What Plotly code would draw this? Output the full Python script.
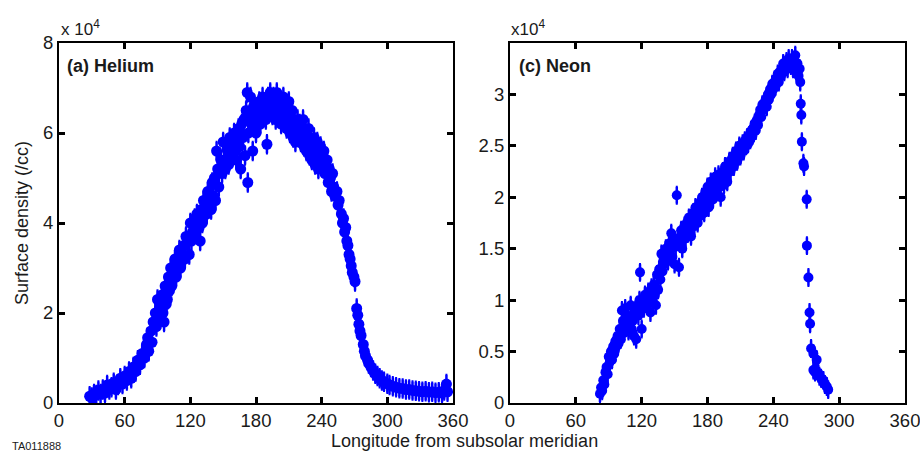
import plotly.graph_objects as go

# ---------------- data (density in units of 1e4 /cc) ----------------
he_lon = [
    28, 30, 32, 34, 36, 38, 40, 42, 44, 46,
    48, 50, 52, 54, 56, 58, 60, 62, 64, 66,
    68, 70, 72, 74, 76, 78, 80, 81, 82, 84,
    85, 86, 88, 89, 90, 91, 92, 94, 95, 96,
    97, 98, 99, 100, 101, 102, 103, 104, 106, 107,
    108, 110, 111, 112, 114, 115, 116, 118, 119, 120,
    121, 122, 124, 125, 126, 128, 129, 130, 131, 132,
    134, 135, 136, 138, 139, 140, 141, 142, 143, 144,
    145, 146, 148, 149, 150, 151, 152, 154, 155, 156,
    157, 158, 160, 161, 162, 163, 164, 165, 166, 167,
    168, 169, 170, 171, 172, 172.5, 173, 174, 175, 176,
    177, 178, 179, 180, 181, 182, 183, 184, 185, 186,
    187, 188, 189, 190, 191, 192, 193, 194, 195, 196,
    197, 198, 199, 200, 201, 202, 203, 204, 205, 206,
    207, 208, 209, 210, 211, 212, 213, 214, 215, 216,
    217, 218, 219, 220, 221, 222, 223, 224, 225, 226,
    227, 228, 229, 230, 231, 232, 233, 234, 235, 236,
    237, 238, 239, 240, 241, 242, 243, 244, 245, 246,
    247, 248, 249, 250, 251, 252, 254, 255, 256, 258,
    259, 260, 261, 262, 263, 264, 265, 266, 267, 268,
    269.5, 270.5, 272, 273, 274, 275, 276, 278, 279, 280,
    282, 283, 285, 287, 289, 291, 293, 295, 297, 300,
    302, 305, 308, 311, 314, 317, 320, 323, 326, 329,
    332, 335, 338, 341, 344, 347, 350, 352, 354, 355,
]
he_density = [
    0.15, 0.12, 0.2, 0.18, 0.28, 0.2, 0.3, 0.22, 0.4, 0.3,
    0.35, 0.45, 0.3, 0.4, 0.55, 0.42, 0.6, 0.5, 0.7, 0.55,
    0.8, 0.7, 0.95, 0.85, 1.1, 1.0, 1.3, 1.45, 1.15, 1.6,
    1.35, 1.8, 2.0, 1.7, 2.3, 1.9, 2.1, 2.4, 2.0, 1.8,
    2.6, 2.2, 2.3, 2.8, 2.5, 3.0, 2.6, 2.9, 3.2, 2.8,
    3.1, 3.4, 3.0, 3.3, 3.5, 3.2, 3.7, 3.6, 3.3, 4.0,
    3.6, 3.8, 4.1, 3.8, 4.2, 3.9, 3.6, 4.3, 4.0, 4.5,
    4.4, 4.2, 4.7, 4.6, 4.3, 4.9, 4.6, 5.0, 4.5, 5.6,
    5.2, 4.8, 5.4, 5.1, 5.8, 5.4, 5.2, 5.6, 5.3, 5.9,
    5.5, 5.7, 6.0, 5.6, 5.4, 5.8, 6.1, 5.7, 5.2, 6.2,
    5.9, 6.3, 5.5, 6.5, 6.9, 4.9, 6.0, 6.4, 6.8, 6.2,
    5.6, 6.6, 6.3, 6.0, 6.5, 6.4, 6.7, 6.2, 6.5, 6.8,
    6.4, 6.6, 6.3, 5.75, 6.8, 6.5, 6.9, 6.6, 6.4, 6.8,
    6.5, 6.3, 6.9, 6.6, 6.4, 6.7, 6.2, 6.5, 6.8, 6.3,
    6.6, 6.1, 6.4, 6.7, 6.0, 6.3, 6.5, 5.9, 6.2, 5.8,
    6.1, 6.3, 5.9, 6.2, 5.8, 6.0, 6.3, 5.7, 6.0, 5.6,
    5.9, 6.1, 5.5, 5.8, 5.4, 5.7, 5.9, 5.3, 5.6, 5.8,
    5.2, 5.5, 5.7, 5.3, 5.5, 5.6, 5.1, 5.3, 5.4, 4.9,
    5.2, 5.0, 4.7, 5.1, 4.8, 4.6, 4.7, 4.4, 4.5, 4.2,
    4.0, 4.1, 3.8, 3.9, 3.6, 3.5, 3.3, 3.2, 3.05, 2.9,
    2.8, 2.7, 2.1, 1.95, 1.75, 1.6, 1.5, 1.3, 1.15, 1.05,
    0.95, 0.88, 0.8, 0.72, 0.65, 0.6, 0.55, 0.5, 0.47, 0.43,
    0.4, 0.37, 0.35, 0.33, 0.32, 0.3, 0.3, 0.28, 0.27, 0.26,
    0.25, 0.26, 0.24, 0.25, 0.23, 0.24, 0.22, 0.28, 0.42, 0.25,
]

ne_lon = [
    82, 83, 84, 85, 86, 87, 88, 89, 90, 91,
    92, 93, 94, 95, 96, 97, 98, 99, 100, 101,
    102, 103, 104, 105, 106, 107, 108, 109, 110, 111,
    112, 113, 114, 115, 116, 117, 118, 118.5, 119, 120,
    121, 122, 123, 124, 125, 126, 127, 128, 129, 130,
    131, 132, 133, 134, 135, 136, 137, 138, 139, 140,
    141, 142, 143, 144, 145, 146, 147, 148, 149, 150,
    151, 152, 153, 154, 155, 156, 157, 158, 159, 160,
    161, 162, 163, 164, 165, 166, 167, 168, 169, 170,
    171, 172, 173, 174, 175, 176, 177, 178, 179, 180,
    181, 182, 183, 184, 185, 186, 187, 188, 189, 190,
    191, 192, 193, 194, 195, 196, 197, 198, 199, 200,
    201, 202, 203, 204, 205, 206, 207, 208, 209, 210,
    211, 212, 213, 214, 215, 216, 217, 218, 219, 220,
    221, 222, 223, 224, 225, 226, 227, 228, 229, 230,
    231, 232, 233, 234, 235, 236, 237, 238, 239, 240,
    241, 242, 243, 244, 245, 246, 247, 248, 249, 250,
    251, 252, 253, 254, 255, 256, 257, 258, 259, 260,
    261, 262, 263, 264, 264.5, 265, 265.5, 266, 267.4, 268,
    270.4, 270.6, 272, 273, 273.5, 274.4, 276.5, 279.5, 276.5, 278,
    281, 282, 283.5, 285.6, 287, 288.7, 290,
]
ne_density = [
    0.09, 0.15, 0.12, 0.22, 0.18, 0.3, 0.35, 0.28, 0.45, 0.4,
    0.5, 0.42, 0.55, 0.48, 0.6, 0.55, 0.65, 0.58, 0.72, 0.62,
    0.9, 0.8, 0.68, 0.92, 0.75, 0.85, 0.7, 0.78, 0.95, 0.72,
    0.8, 0.65, 0.88, 0.62, 0.95, 0.85, 1.0, 1.27, 0.9, 0.72,
    1.0, 0.92, 1.05, 0.98, 0.95, 1.08, 1.0, 0.88, 1.12, 1.0,
    1.15, 1.05, 0.95, 1.25, 1.1, 1.3, 1.2, 1.45, 1.28, 1.4,
    1.35, 1.5, 1.45, 1.38, 1.55, 1.48, 1.65, 1.42, 1.58, 1.35,
    1.52, 2.02, 1.6, 1.32, 1.55, 1.68, 1.5, 1.62, 1.72, 1.6,
    1.75, 1.65, 1.8, 1.7, 1.62, 1.78, 1.85, 1.72, 1.9, 1.8,
    1.75, 1.88, 1.95, 1.82, 2.0, 1.9, 1.85, 2.05, 1.95, 2.1,
    1.9, 2.0, 2.15, 2.05, 1.98, 2.12, 2.2, 2.05, 2.15, 2.22,
    2.1, 2.0, 2.18, 2.25, 2.12, 2.3, 2.2, 2.15, 2.28, 2.35,
    2.25, 2.32, 2.4, 2.3, 2.38, 2.45, 2.35, 2.42, 2.5, 2.4,
    2.48, 2.52, 2.45, 2.55, 2.5, 2.58, 2.52, 2.6, 2.56, 2.65,
    2.6, 2.68, 2.72, 2.65, 2.75, 2.7, 2.8, 2.85, 2.78, 2.9,
    2.85, 2.92, 2.95, 2.88, 3.0, 2.95, 3.05, 3.0, 3.1, 3.05,
    3.12, 3.08, 3.15, 3.2, 3.12, 3.22, 3.18, 3.25, 3.3, 3.22,
    3.28, 3.32, 3.25, 3.35, 3.3, 3.28, 3.35, 3.25, 3.32, 3.38,
    3.22, 3.3, 3.18, 3.25, 3.12, 2.91, 2.8, 2.54, 2.33, 2.3,
    1.98, 1.53, 1.22, 0.88, 0.77, 0.53, 0.48, 0.42, 0.32, 0.3,
    0.29, 0.26, 0.24, 0.22, 0.18, 0.16, 0.13,
]
assert len(he_lon) == len(he_density)
assert len(ne_lon) == len(ne_density)

x_ticks = [0, 60, 120, 180, 240, 300, 360]
he_y_ticks = [0, 2, 4, 6, 8]
ne_y_ticks = [0, 0.5, 1, 1.5, 2, 2.5, 3]
ne_y_labels = ["0", "0.5", "1", "1.5", "2", "2.5", "3"]

# ---------------- figure ----------------
BLUE = "#0000FF"
FONT = "Liberation Sans, Arial, sans-serif"
TXT = "#1a1a1a"

fig = go.Figure()
fig.add_trace(go.Scatter(
    x=he_lon, y=he_density, mode="markers",
    marker=dict(color=BLUE, size=11, line=dict(width=0)),
    error_y=dict(type="constant", value=0.2, color=BLUE, thickness=2.5, width=1),
    xaxis="x", yaxis="y", showlegend=False))
fig.add_trace(go.Scatter(
    x=ne_lon, y=ne_density, mode="markers",
    marker=dict(color=BLUE, size=10, line=dict(width=0)),
    error_y=dict(type="constant", value=0.08, color=BLUE, thickness=2.5, width=1),
    xaxis="x2", yaxis="y2", showlegend=False))

axis_common = dict(showgrid=False, zeroline=False, showline=True, linecolor="black",
                   linewidth=2, mirror="ticks", ticks="inside", ticklen=6, tickwidth=2.5,
                   automargin=False, ticklabeloverflow="allow",
                   tickcolor="black", tickfont=dict(family=FONT, size=18.5, color=TXT))

fig.update_layout(
    width=920, height=453, autosize=False,
    margin=dict(l=0, r=0, t=0, b=0, pad=0, autoexpand=False),
    paper_bgcolor="white", plot_bgcolor="white",
    xaxis=dict(domain=[59/920, 453/920], range=[0, 360], tickvals=x_ticks, anchor="y", **axis_common),
    yaxis=dict(domain=[50/453, 410/453], range=[0, 8], tickvals=he_y_ticks, anchor="x", **axis_common),
    xaxis2=dict(domain=[510/920, 905/920], range=[0, 360], tickvals=x_ticks, anchor="y2", **axis_common),
    yaxis2=dict(domain=[50/453, 410/453], range=[0, 3.5], tickvals=ne_y_ticks, ticktext=ne_y_labels,
                anchor="x2", **axis_common),
)

ann = [
    dict(text="<b>(a) Helium</b>", x=65, y=453-66, xanchor="left", yanchor="middle",
         font=dict(size=18, family=FONT, color=TXT)),
    dict(text="<b>(c) Neon</b>", x=517, y=453-66, xanchor="left", yanchor="middle",
         font=dict(size=18, family=FONT, color=TXT)),
    dict(text="x 10<sup>4</sup>", x=59, y=453-28, xanchor="left", yanchor="middle",
         font=dict(size=17, family=FONT, color=TXT)),
    dict(text="x10<sup>4</sup>", x=509, y=453-28, xanchor="left", yanchor="middle",
         font=dict(size=17, family=FONT, color=TXT)),
    dict(text="Longitude from subsolar meridian", x=464, y=453-441, xanchor="center", yanchor="middle",
         font=dict(size=18, family=FONT, color=TXT)),
    dict(text="Surface density (/cc)", x=22, y=453-223, xanchor="center", yanchor="middle",
         textangle=-90, font=dict(size=18, family=FONT, color=TXT)),
    dict(text="TA011888", x=10, y=453-446, xanchor="left", yanchor="middle",
         font=dict(size=11, family=FONT, color=TXT)),
]
for a in ann:
    a["x"] = a["x"] / 920
    a["y"] = a["y"] / 453
    a.update(xref="paper", yref="paper", showarrow=False)
fig.update_layout(annotations=ann)

fig.write_html(
    "out.html",
    config={"displayModeBar": False},
    post_script="document.body.style.margin='0';document.body.style.overflow='hidden';",
)
